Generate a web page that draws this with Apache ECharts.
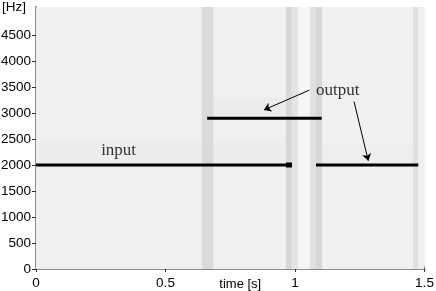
<!DOCTYPE html>
<html><head><meta charset="utf-8">
<script src="https://cdn.jsdelivr.net/npm/echarts@6/dist/echarts.min.js"></script>
<style>html,body{margin:0;padding:0;background:#fff}#c{width:436px;height:291px}</style>
</head><body><div id="c"></div>
<script>
// Axis ticks
const xTicks = [0, 0.5, 1, 1.5];
const yTicks = [0, 500, 1000, 1500, 2000, 2500, 3000, 3500, 4000, 4500];
// Spectrogram cells: time start/end [s], freq start/end [Hz], darkness (0..1)
const cellT0 = [0, 0.0, 0.661, 1.104, 0.640, 0.965, 0.988, 1.012, 1.058, 1.081, 1.456];
const cellT1 = [1.5, 0.965, 0.965, 1.456, 0.685, 0.988, 1.012, 1.058, 1.081, 1.104, 1.475];
const cellF0 = [0, 2050, 2950, 2050, 0, 0, 0, 0, 0, 0, 0];
const cellF1 = [5040, 2450, 3300, 2400, 5040, 5040, 5040, 5040, 5040, 5040, 5040];
const cellLevel = [0.0, 0.07, 0.1, 0.06, 0.55, 0.62, 0.3, -0.12, 0.4, 0.62, 0.4];
// Tones
const inputTone = [[0, 2000], [0.987, 2000]];
const inputTail = [[0.965, 2000], [0.988, 2000]];
const outputTone1 = [[0.661, 2900], [1.103, 2900]];
const outputTone2 = [[1.081, 2000], [1.476, 2000]];
// Annotations
const labelInput = [0.319, 2270];
const labelOutput = [1.165, 3430];
const arrow1 = [[1.055, 3440], [0.880, 3060]];
const arrow2 = [[1.228, 3220], [1.283, 2080]];

const cells = cellT0.map((t, i) => [t, cellT1[i], cellF0[i], cellF1[i], cellLevel[i]]);
function grey(l){ const g = Math.round(240 - l*40); return `rgb(${g},${g},${g})`; }

const chart = echarts.init(document.getElementById('c'), null, {renderer:'canvas'});
const axisCol = '#8a8a8a';
const fontS = 'Liberation Sans, Arial, sans-serif';
chart.setOption({
  animation: false,
  grid: {left: 36, right: 11.5, top: 7, bottom: 22, show: true, backgroundColor: '#f0f0f0', borderWidth: 0,
    containLabel: false, outerBoundsMode: 'none'},
  xAxis: [{
    type: 'value', min: 0, max: 1.5, interval: 0.5, position: 'bottom',
    axisLine: {show: true, lineStyle: {color: axisCol, width: 2}},
    axisTick: {show: true, inside: true, length: 3, lineStyle: {color: '#333'}, customValues: xTicks},
    axisLabel: {color: '#000', fontFamily: fontS, fontSize: 13.5, margin: 7, customValues: xTicks,
      formatter: v => String(v)},
    splitLine: {show: false},
    name: 'time [s]', nameLocation: 'middle', nameGap: 9, nameMoveOverlap: false,
    nameTextStyle: {color: '#000', fontFamily: fontS, fontSize: 13, verticalAlign: 'top', padding: [0, 0, 0, 20]}
  }, {
    type: 'value', min: 0, max: 1.5, interval: 0.5, position: 'top',
    axisLine: {show: true, lineStyle: {color: axisCol, width: 2}},
    axisTick: {show: true, inside: true, length: 3, lineStyle: {color: '#333'}, customValues: xTicks},
    axisLabel: {show: false}, splitLine: {show: false}
  }],
  yAxis: [{
    type: 'value', min: 0, max: 5040, position: 'left',
    axisLine: {show: true, lineStyle: {color: axisCol, width: 2}},
    axisTick: {show: true, inside: false, length: 4, lineStyle: {color: '#333'}, customValues: yTicks},
    axisLabel: {color: '#000', fontFamily: fontS, fontSize: 13.5, margin: 5, customValues: yTicks,
      formatter: v => String(v)},
    splitLine: {show: false},
    name: '[Hz]', nameLocation: 'end', nameGap: 0, nameMoveOverlap: false,
    nameTextStyle: {color: '#000', fontFamily: fontS, fontSize: 13.5, align: 'right', verticalAlign: 'middle', padding: [0, 10, 0, 0]}
  }, {
    type: 'value', min: 0, max: 5040, position: 'right',
    axisLine: {show: true, lineStyle: {color: axisCol, width: 2}},
    axisTick: {show: true, inside: true, length: 3, lineStyle: {color: '#333'}, customValues: yTicks},
    axisLabel: {show: false}, splitLine: {show: false}
  }],
  series: [
    {
      type: 'custom', xAxisIndex: 0, yAxisIndex: 0, silent: true, z: 1,
      data: cells,
      renderItem: (params, api) => {
        const p0 = api.coord([api.value(0), api.value(3)]);
        const p1 = api.coord([api.value(1), api.value(2)]);
        const cs = params.coordSys;
        const shape = echarts.graphic.clipRectByRect(
          {x: p0[0], y: p0[1], width: p1[0]-p0[0], height: p1[1]-p0[1]},
          {x: cs.x, y: cs.y, width: cs.width, height: cs.height});
        return shape && {type: 'rect', shape, style: {fill: grey(api.value(4))}};
      }
    },
    {type: 'line', data: inputTone, symbol: 'none', lineStyle: {color: '#000', width: 3}, z: 5},
    {type: 'line', data: inputTail, symbol: 'none', lineStyle: {color: '#000', width: 5}, z: 5},
    {type: 'line', data: outputTone1, symbol: 'none', lineStyle: {color: '#000', width: 3}, z: 5},
    {type: 'line', data: outputTone2, symbol: 'none', lineStyle: {color: '#000', width: 3}, z: 5},
    {type: 'lines', coordinateSystem: 'cartesian2d', z: 6, symbol: ['none', 'arrow'], symbolSize: 7,
      lineStyle: {color: '#000', width: 1, opacity: 1},
      data: [{coords: arrow1}, {coords: arrow2}]},
    {type: 'scatter', symbolSize: 0, z: 7,
      data: [
        {value: labelInput, label: {show: true, formatter: 'input'}},
        {value: labelOutput, label: {show: true, formatter: 'output'}}
      ],
      label: {position: 'inside', color: '#000', fontFamily: 'Liberation Serif, Times New Roman, serif', fontSize: 17}}
  ]
});
</script></body></html>
